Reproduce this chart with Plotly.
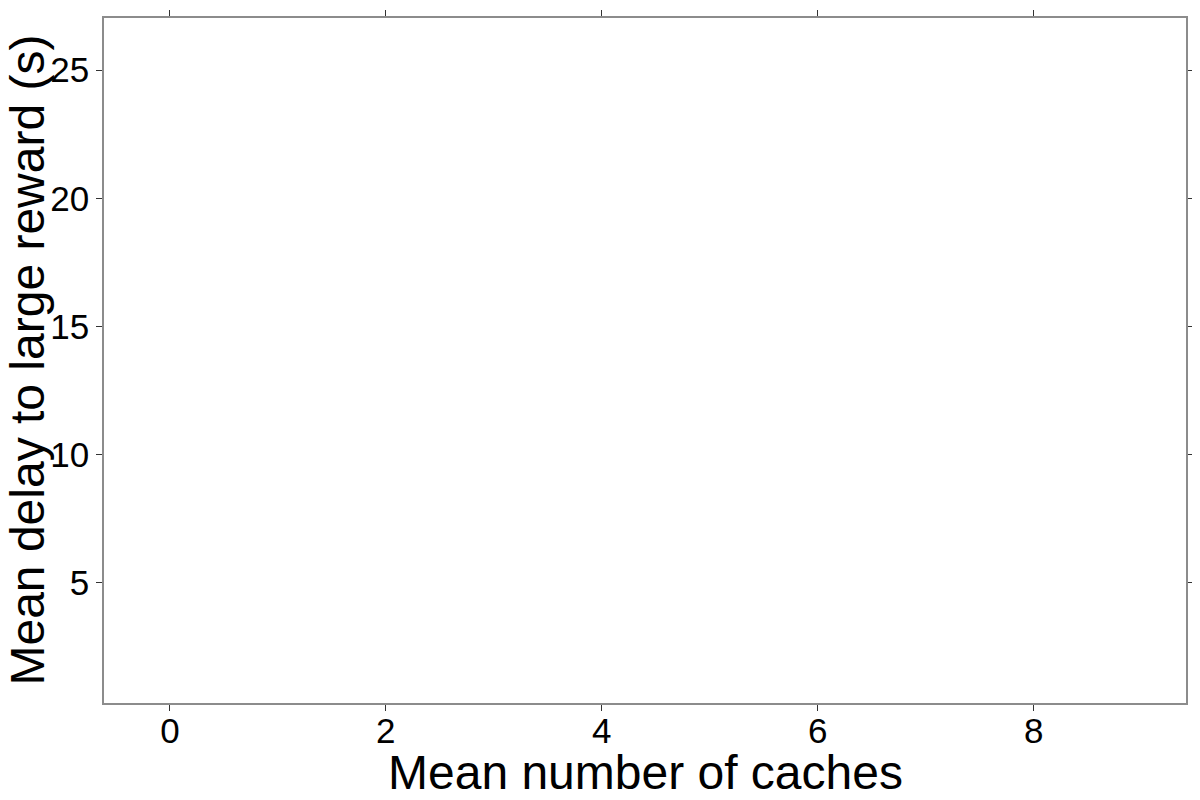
import plotly.graph_objects as go

# Data (the reference panel shows no plotted points)
mean_caches = []
mean_delay = []

# Axis ticks
x_ticks = [0, 2, 4, 6, 8]
y_ticks = [5, 10, 15, 20, 25]
x_range = [-0.61, 9.41]
y_range = [0.32, 27.03]

x_title = "Mean number of caches"
y_title = "Mean delay to large reward (s)"

font_family = "Liberation Sans, Arial, Helvetica, sans-serif"

fig = go.Figure()
fig.add_trace(go.Scatter(x=mean_caches, y=mean_delay, mode="markers",
                         marker=dict(color="black"), showlegend=False))

axis_style = dict(showline=True, linecolor="#8c8c8c", linewidth=1.5, mirror="ticks",
                  ticks="outside", ticklen=6, tickwidth=1, tickcolor="#333333",
                  showgrid=False, zeroline=False,
                  tickfont=dict(family=font_family, size=35, color="black"))

fig.update_xaxes(range=x_range, tickvals=x_ticks, ticklabelstandoff=-10, **axis_style)
fig.update_yaxes(range=y_range, tickvals=y_ticks, **axis_style)

# Axis titles as annotations (the y title overlaps the tick labels in the original)
fig.add_annotation(text=x_title, xref="paper", yref="paper", x=0.5, y=0,
                   yshift=-69, xanchor="center", yanchor="middle", showarrow=False,
                   font=dict(family=font_family, size=48, color="black"))
fig.add_annotation(text=y_title, xref="paper", yref="paper", x=0, y=0.5,
                   xshift=-77, xanchor="center", yanchor="middle", textangle=-90,
                   showarrow=False,
                   font=dict(family=font_family, size=48, color="black"))

# the page adds an 8px body margin, so the figure is 16px smaller than the window
fig.update_layout(width=1184, height=784, plot_bgcolor="white", paper_bgcolor="white",
                  margin=dict(l=96, r=6, t=10, b=89, autoexpand=False),
                  showlegend=False)

fig.write_html("out.html")
